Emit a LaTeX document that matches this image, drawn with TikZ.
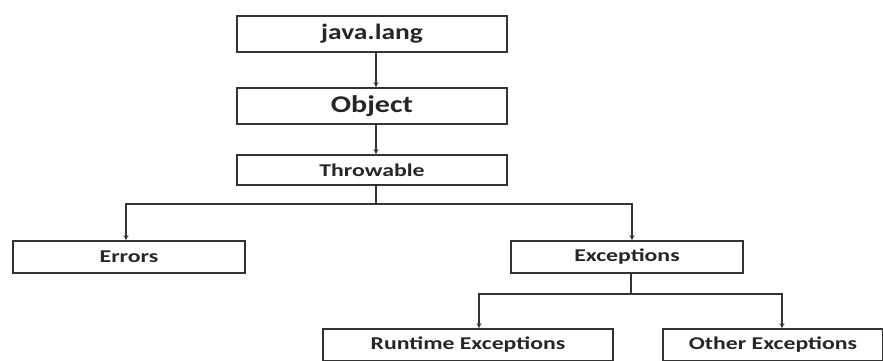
\documentclass[tikz,border=0pt]{standalone}
\usepackage{fontspec}
\setmainfont{Carlito}
\usetikzlibrary{arrows.meta}
\newcommand{\wide}[1]{\scalebox{1.25}[1]{#1}}
\newcommand{\wider}[1]{\scalebox{1.32}[1]{#1}}
\tikzset{
  box/.style={draw=black!80, line width=1.8pt, rectangle, inner sep=0pt, font=\bfseries, text=black!85},
  small/.style={font=\bfseries\fontsize{18}{20}\selectfont},
  arr/.style={draw=black!80, line width=1.8pt, -{Stealth[length=5pt,width=5pt]}},
}
\begin{document}
\begin{tikzpicture}[x=1pt,y=-1pt]
\useasboundingbox (0,0) rectangle (883,361);
\clip (0,0) rectangle (883,361);
\fill[white] (0,0) rectangle (883,361);
\node[box, minimum width=270pt, minimum height=36pt, font=\bfseries\fontsize{22}{24}\selectfont] (jl) at (372,34) {\wide{java.lang}};
\node[box, minimum width=270pt, minimum height=36pt, font=\bfseries\fontsize{24}{26}\selectfont] (obj) at (372,106) {\wide{Object}};
\node[box, small, minimum width=270pt, minimum height=30pt] (thr) at (372,170) {\wider{Throwable}};
\node[box, small, minimum width=232pt, minimum height=32pt] (err) at (129,257) {\wider{Errors}};
\node[box, small, minimum width=232pt, minimum height=32pt] (exc) at (627,257) {\wider{Exceptions}};
\node[box, small, minimum width=290pt, minimum height=32pt] (rt) at (468,345) {\wider{Runtime Exceptions}};
\node[box, small, minimum width=220pt, minimum height=32pt] (oth) at (773,345) {\wider{Other Exceptions}};
\draw[arr] ([xshift=4pt]jl.south) -- ([xshift=4pt]obj.north);
\draw[arr] ([xshift=4pt]obj.south) -- ([xshift=4pt]thr.north);
\draw[arr] ([xshift=4pt]thr.south) -- ++(0,18) -| ([xshift=-3pt]err.north);
\draw[arr] ([xshift=4pt]thr.south) -- ++(0,18) -| ([xshift=5pt]exc.north);
\draw[arr] ([xshift=4pt]exc.south) -- ++(0,20) -| ([xshift=11pt]rt.north);
\draw[arr] ([xshift=4pt]exc.south) -- ++(0,20) -| ([xshift=9pt]oth.north);
\end{tikzpicture}
\end{document}
